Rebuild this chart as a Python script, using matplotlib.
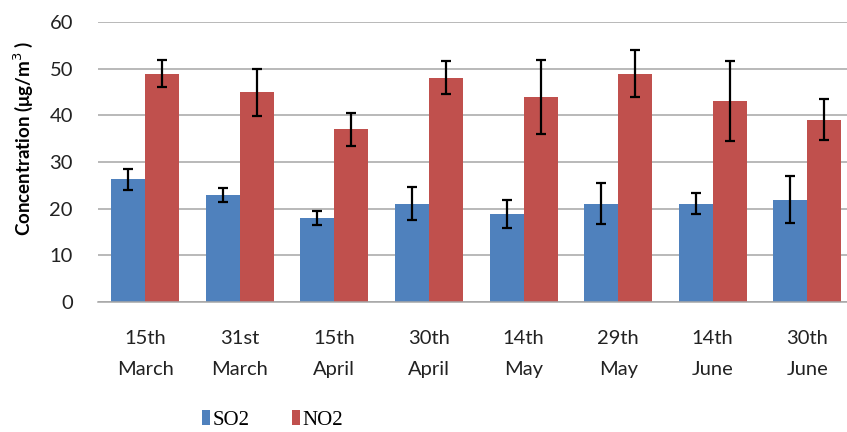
import numpy as np
import matplotlib
matplotlib.use("Agg")
import matplotlib.pyplot as plt

# dates of sampling
dates = ["15th\nMarch", "31st\nMarch", "15th\nApril", "30th\nApril",
         "14th\nMay", "29th\nMay", "14th\nJune", "30th\nJune"]
so2 = [26.3, 22.9, 17.9, 21.1, 18.9, 21.1, 21.1, 21.9]
so2_err = [2.2, 1.5, 1.5, 3.6, 3.0, 4.3, 2.2, 5.0]
no2 = [48.9, 44.9, 37.0, 48.1, 43.9, 48.9, 43.1, 39.1]
no2_err = [2.9, 5.0, 3.5, 3.6, 7.9, 5.0, 8.5, 4.3]

plt.rcParams['font.family'] = ['Lato', 'DejaVu Sans']

fig = plt.figure(figsize=(8.47, 4.32), dpi=100)
ax = fig.add_axes([0.1157, 0.301, 0.8843, 0.648])

x = np.arange(len(dates))
w = 0.36
ekw = dict(elinewidth=1.6, capthick=1.6, ecolor="black")
ax.bar(x - w/2, so2, w, color="#4F81BD", yerr=so2_err, capsize=3.5,
       error_kw=ekw, label="SO2", zorder=2)
ax.bar(x + w/2, no2, w, color="#C0504D", yerr=no2_err, capsize=3.5,
       error_kw=ekw, label="NO2", zorder=2)

ax.set_ylim(0, 60)
ax.set_yticks(range(0, 61, 10))
ax.set_xlim(-0.5, 7.42)
ax.set_xticks(x)
ax.set_xticklabels(dates, fontsize=14.5, linespacing=2.0, color="#222222")
ax.tick_params(axis="y", labelsize=14.5, length=0, pad=18, labelcolor="#222222")
ax.tick_params(axis="x", length=0, pad=20)
ax.yaxis.grid(True, color="#A6A6A6", linewidth=1.1, zorder=0)
ax.set_axisbelow(True)
for s in ["top", "right", "left"]:
    ax.spines[s].set_visible(False)
ax.spines["bottom"].set_color("#A6A6A6")
ax.spines["bottom"].set_linewidth(1.1)

fig.text(23 / 847, 1 - 138 / 432, "Concentration (\u03bcg/m$^3$ )", rotation=90,
         ha="center", va="center", fontsize=13.5, fontweight="bold")

leg = fig.legend(loc="center", bbox_to_anchor=(0.322, 0.028), ncol=2, frameon=False,
                 prop={"family": "Liberation Serif", "size": 15},
                 handlelength=0.38, handleheight=0.75, handletextpad=0.15,
                 columnspacing=2.0)

fig.savefig("out.png", dpi=100)
